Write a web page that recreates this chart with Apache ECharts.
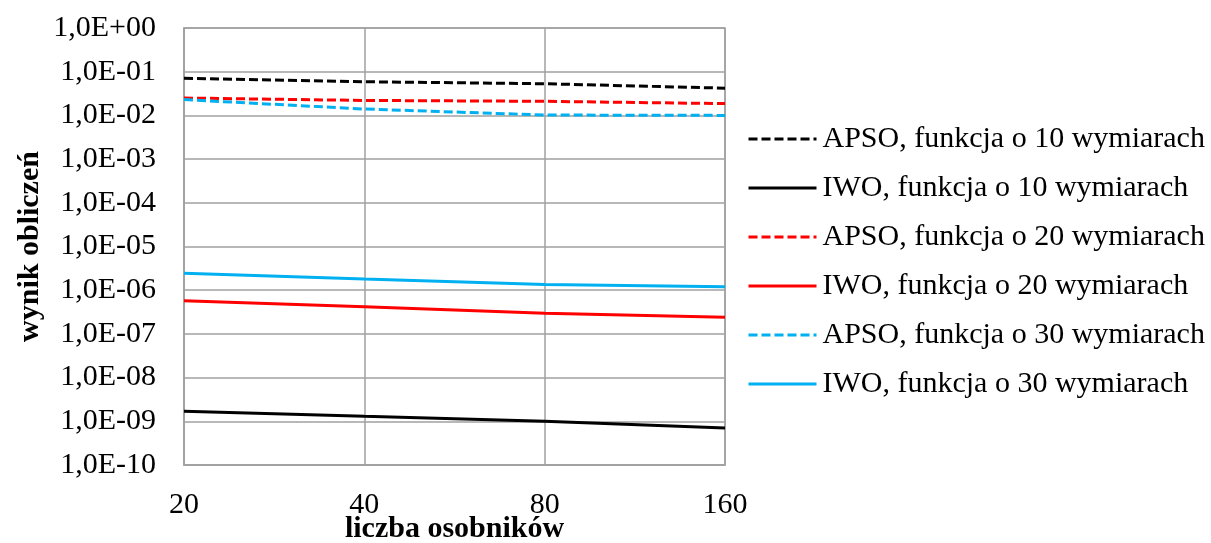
<!DOCTYPE html>
<html>
<head>
<meta charset="utf-8">
<script src="https://cdn.jsdelivr.net/npm/echarts@6/dist/echarts.min.js"></script>
<style>html,body{margin:0;padding:0;background:#fff}#c{width:1211px;height:543px}</style>
</head>
<body>
<div id="c"></div>
<script>
const categories = ['20', '40', '80', '160'];
const seriesNames = [
  'APSO, funkcja o 10 wymiarach',
  'IWO, funkcja o 10 wymiarach',
  'APSO, funkcja o 20 wymiarach',
  'IWO, funkcja o 20 wymiarach',
  'APSO, funkcja o 30 wymiarach',
  'IWO, funkcja o 30 wymiarach'
];
const apso10 = [0.071, 0.059, 0.053, 0.042];
const iwo10 = [1.7e-9, 1.3e-9, 1.0e-9, 7.0e-10];
const apso20 = [0.025, 0.022, 0.021, 0.0186];
const iwo20 = [5.7e-7, 4.2e-7, 2.95e-7, 2.4e-7];
const apso30 = [0.023, 0.014, 0.0102, 0.010];
const iwo30 = [2.45e-6, 1.8e-6, 1.35e-6, 1.2e-6];
const yMin = 1e-10;
const yMax = 1;

const seriesData = [apso10, iwo10, apso20, iwo20, apso30, iwo30];
const colors = ['#000000', '#000000', '#ff0000', '#ff0000', '#00b0f0', '#00b0f0'];
const dashed = [true, false, true, false, true, false];

const font = 'Liberation Serif, Times New Roman, serif';

function fmt(v) {
  const e = Math.round(Math.log10(v));
  const s = e < 0 ? '-' : '+';
  const a = Math.abs(e);
  return '1,0E' + s + (a < 10 ? '0' + a : a);
}

const chart = echarts.init(document.getElementById('c'));
chart.setOption({
  animation: false,
  backgroundColor: '#ffffff',
  grid: {
    left: 184, right: 486, top: 28, bottom: 78,
    containLabel: false, outerBoundsMode: 'none',
    show: true, borderColor: '#a0a0a0', borderWidth: 1.5
  },
  legend: {
    orient: 'vertical',
    left: 742,
    top: 119,
    itemWidth: 68,
    itemHeight: 14,
    itemGap: 19,
    itemStyle: { opacity: 0 },
    lineStyle: { width: 3 },
    textStyle: { fontFamily: font, fontSize: 30, color: '#000', lineHeight: 30, padding: [0, 0, 0, 1] },
    data: seriesNames
  },
  xAxis: {
    type: 'category',
    data: categories,
    boundaryGap: false,
    name: 'liczba osobników',
    nameLocation: 'middle',
    nameGap: 49,
    nameMoveOverlap: false,
    nameTextStyle: { fontFamily: font, fontSize: 30, fontWeight: 'bold', color: '#000', lineHeight: 30 },
    axisLine: { lineStyle: { color: '#a0a0a0', width: 1.5 } },
    axisTick: { show: false },
    axisLabel: { fontFamily: font, fontSize: 30, color: '#000', margin: 25 },
    splitLine: { show: true, lineStyle: { color: '#a0a0a0', width: 1.5 } }
  },
  yAxis: {
    type: 'log',
    logBase: 10,
    min: yMin,
    max: yMax,
    interval: 1,
    splitNumber: 10,
    name: 'wynik obliczeń',
    nameLocation: 'middle',
    nameGap: 139,
    nameMoveOverlap: false,
    nameTextStyle: { fontFamily: font, fontSize: 30, fontWeight: 'bold', color: '#000' },
    axisLine: { show: true, lineStyle: { color: '#a0a0a0', width: 1.5 } },
    axisTick: { show: false },
    axisLabel: { fontFamily: font, fontSize: 30, color: '#000', margin: 28, formatter: fmt },
    splitLine: { show: true, lineStyle: { color: '#a0a0a0', width: 1.5 } }
  },
  series: seriesNames.map((n, i) => ({
    name: n,
    type: 'line',
    data: seriesData[i],
    symbol: 'none',
    showSymbol: false,
    color: colors[i],
    lineStyle: { color: colors[i], width: 3, type: dashed[i] ? [9, 4] : 'solid' },
    z: 3
  }))
});
</script>
</body>
</html>
